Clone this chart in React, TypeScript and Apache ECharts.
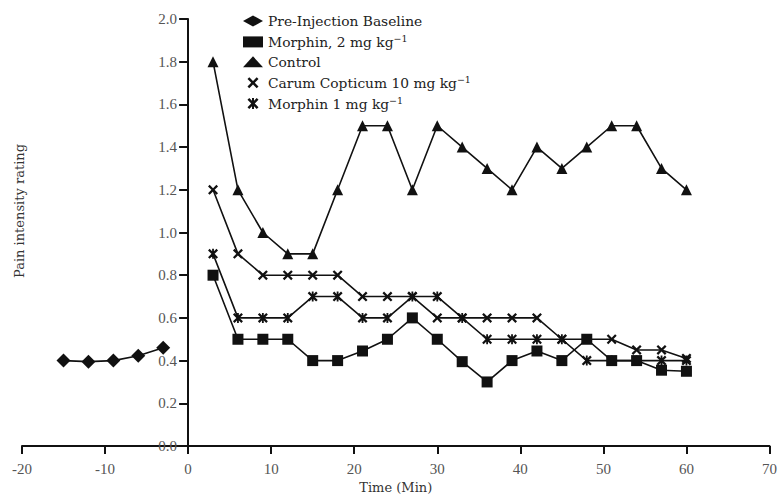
import React, { useEffect, useRef } from "react";
import * as echarts from "echarts";

const baselineTimes = [-15, -12, -9, -6, -3];
const baselineValues = [0.4, 0.395, 0.4, 0.423, 0.46];

const postTimes = [3, 6, 9, 12, 15, 18, 21, 24, 27, 30, 33, 36, 39, 42, 45, 48, 51, 54, 57, 60];
const morphin2Values = [0.8, 0.5, 0.5, 0.5, 0.4, 0.4, 0.445, 0.5, 0.6, 0.5, 0.395, 0.3, 0.4, 0.445, 0.4, 0.5, 0.4, 0.4, 0.355, 0.35];
const controlValues = [1.8, 1.2, 1.0, 0.9, 0.9, 1.2, 1.5, 1.5, 1.2, 1.5, 1.4, 1.3, 1.2, 1.4, 1.3, 1.4, 1.5, 1.5, 1.3, 1.2];
const carumValues = [1.2, 0.9, 0.8, 0.8, 0.8, 0.8, 0.7, 0.7, 0.7, 0.6, 0.6, 0.6, 0.6, 0.6, 0.5, 0.5, 0.5, 0.45, 0.45, 0.41];
const morphin1Values = [0.9, 0.6, 0.6, 0.6, 0.7, 0.7, 0.6, 0.6, 0.7, 0.7, 0.6, 0.5, 0.5, 0.5, 0.5, 0.4, 0.4, 0.4, 0.4, 0.4];

const seriesNames = [
  "Pre-Injection Baseline",
  "Morphin, 2 mg kg-1",
  "Control",
  "Carum Copticum 10 mg kg-1",
  "Morphin 1 mg kg-1",
];

const yTitle = "Pain intensity rating";
const xTitle = "Time (Min)";

const X_PATH =
  "path://M0,1.6 L1.6,0 L5,3.4 L8.4,0 L10,1.6 L6.6,5 L10,8.4 L8.4,10 L5,6.6 L1.6,10 L0,8.4 L3.4,5 Z";
const STAR_PATH =
  "path://M0,1.6 L1.6,0 L5,3.4 L8.4,0 L10,1.6 L6.6,5 L10,8.4 L8.4,10 L5,6.6 L1.6,10 L0,8.4 L3.4,5 Z M4.1,0 L5.9,0 L5.9,10 L4.1,10 Z";

const SERIF = "'DejaVu Serif', 'Liberation Serif', serif";
const TICKFONT = "'Liberation Serif', serif";

const GRID_LEFT = 22;
const GRID_RIGHT = 11.5;
const WIDTH = 781;
const X_MIN = -20;
const X_MAX = 70;

function pairs(xs: number[], ys: number[]) {
  return xs.map((x, i) => [x, ys[i]]);
}

export default function App() {
  const ref = useRef<HTMLDivElement>(null);
  useEffect(() => {
    if (!ref.current) return;
    const chart = echarts.init(ref.current, undefined, { renderer: "svg" });
    const lineStyle = { color: "#111", width: 1.6 };
    const itemStyle = { color: "#111" };
    const mk = (name: string, data: number[][], symbol: string, size: number) => ({
      name,
      type: "line",
      data,
      symbol,
      symbolSize: size,
      lineStyle,
      itemStyle,
      z: 3,
    });
    const plotW = WIDTH - GRID_LEFT - GRID_RIGHT;
    const zeroOffset = ((0 - X_MIN) / (X_MAX - X_MIN)) * plotW;
    chart.setOption({
      animation: false,
      backgroundColor: "#fff",
      grid: {
        left: GRID_LEFT,
        right: GRID_RIGHT,
        top: 19,
        bottom: 48,
        containLabel: false,
        outerBoundsMode: "none",
      },
      graphic: [
        {
          type: "text",
          x: 19,
          y: 211,
          rotation: Math.PI / 2,
          style: {
            text: yTitle,
            fontFamily: SERIF,
            fontSize: 13,
            fill: "#333",
            align: "center",
            verticalAlign: "middle",
          },
        },
      ],
      legend: {
        orient: "vertical",
        left: 238,
        top: 9,
        itemWidth: 20,
        itemHeight: 11,
        itemGap: 5.9,
        symbolKeepAspect: true,
        data: [
          { name: seriesNames[0], icon: "diamond" },
          { name: seriesNames[1], icon: "rect" },
          { name: seriesNames[2], icon: "triangle" },
          { name: seriesNames[3], icon: X_PATH },
          { name: seriesNames[4], icon: STAR_PATH },
        ],
        formatter: (name: string) => {
          if (name.endsWith("-1")) {
            return "{t|" + name.slice(0, -2) + "}{s|\u22121}";
          }
          return "{t|" + name + "}";
        },
        textStyle: {
          rich: {
            t: { fontFamily: SERIF, fontSize: 13.8, color: "#222", lineHeight: 16 },
            s: { fontFamily: SERIF, fontSize: 9.5, color: "#222", lineHeight: 9, verticalAlign: "top" },
          },
        },
      },
      xAxis: {
        type: "value",
        min: X_MIN,
        max: X_MAX,
        interval: 10,
        name: xTitle,
        nameLocation: "middle",
        nameGap: 34,
        nameTextStyle: { fontFamily: SERIF, fontSize: 13, color: "#333" },
        axisLine: { show: true, lineStyle: { color: "#111", width: 2 } },
        axisTick: { show: true, length: 8, lineStyle: { color: "#111", width: 2 } },
        axisLabel: { fontFamily: TICKFONT, fontSize: 15, color: "#555", margin: 15 },
        splitLine: { show: false },
      },
      yAxis: {
        type: "value",
        min: 0,
        max: 2,
        interval: 0.2,
        offset: -zeroOffset,
        axisLine: { show: true, onZero: false, lineStyle: { color: "#111", width: 2 } },
        axisTick: { show: true, length: 9, lineStyle: { color: "#111", width: 2 } },
        axisLabel: {
          fontFamily: TICKFONT,
          fontSize: 15,
          color: "#555",
          margin: 11,
          formatter: (v: number) => v.toFixed(1),
        },
        splitLine: { show: false },
      },
      series: [
        mk(seriesNames[0], pairs(baselineTimes, baselineValues), "diamond", 14),
        mk(seriesNames[1], pairs(postTimes, morphin2Values), "rect", 11),
        mk(seriesNames[2], pairs(postTimes, controlValues), "triangle", 11),
        mk(seriesNames[3], pairs(postTimes, carumValues), X_PATH, 10),
        mk(seriesNames[4], pairs(postTimes, morphin1Values), STAR_PATH, 10),
      ],
    });
    return () => chart.dispose();
  }, []);
  return (
    <div
      ref={ref}
      style={{ position: "fixed", left: 0, top: 0, width: 781, height: 494 }}
    />
  );
}
